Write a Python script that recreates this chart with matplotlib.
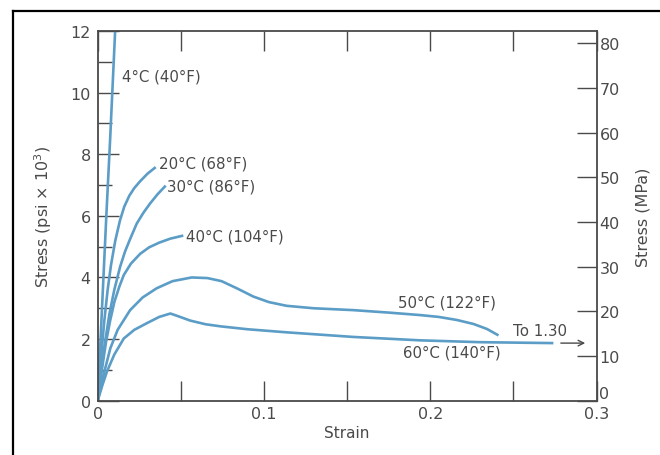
import matplotlib.pyplot as plt
from matplotlib.lines import Line2D
from matplotlib.ticker import MultipleLocator

# stress-strain curves, stress in psi x 10^3
strain_4 = [0, 0.0026, 0.0052, 0.0075, 0.0105]
stress_4 = [0, 3.0, 6.0, 8.5, 12.0]

strain_20 = [0, 0.002, 0.004, 0.006, 0.008, 0.0106, 0.0134, 0.016, 0.019,
             0.022, 0.0255, 0.03, 0.0349]
stress_20 = [0, 1.4, 2.6, 3.6, 4.4, 5.2, 5.85, 6.3, 6.65,
             6.9, 7.12, 7.37, 7.58]

strain_30 = [0, 0.002, 0.004, 0.007, 0.01, 0.0135, 0.0165, 0.0196, 0.0235,
             0.0275, 0.0315, 0.036, 0.0409]
stress_30 = [0, 0.9, 1.75, 2.8, 3.6, 4.35, 4.85, 5.26, 5.75,
             6.1, 6.4, 6.7, 6.98]

strain_40 = [0, 0.0025, 0.005, 0.0075, 0.01, 0.013, 0.0157, 0.02, 0.0256,
             0.031, 0.037, 0.0437, 0.0515]
stress_40 = [0, 1.0, 1.9, 2.6, 3.2, 3.7, 4.08, 4.45, 4.77,
             4.98, 5.13, 5.26, 5.36]

strain_50 = [0, 0.0038, 0.0076, 0.012, 0.0195, 0.027, 0.0355, 0.045, 0.0565,
             0.066, 0.0745, 0.084, 0.0936, 0.103, 0.1136, 0.13, 0.1537, 0.175,
             0.1938, 0.205, 0.216, 0.226, 0.234, 0.241]
stress_50 = [0, 0.9, 1.7, 2.3, 2.94, 3.35, 3.65, 3.88, 4.0,
             3.98, 3.88, 3.64, 3.38, 3.2, 3.08, 3.0, 2.94, 2.86,
             2.78, 2.72, 2.62, 2.49, 2.33, 2.12]

strain_60 = [0, 0.0028, 0.0056, 0.01, 0.0157, 0.022, 0.0297, 0.037, 0.0437,
             0.048, 0.0557, 0.065, 0.0745, 0.09, 0.1136, 0.1537, 0.1938, 0.23,
             0.274]
stress_60 = [0, 0.5, 0.95, 1.5, 2.02, 2.3, 2.52, 2.72, 2.83,
             2.75, 2.6, 2.48, 2.41, 2.32, 2.22, 2.07, 1.96, 1.9,
             1.87]

curves = [(strain_4, stress_4), (strain_20, stress_20), (strain_30, stress_30),
          (strain_40, stress_40), (strain_50, stress_50), (strain_60, stress_60)]

labels = ["4°C (40°F)", "20°C (68°F)", "30°C (86°F)", "40°C (104°F)",
          "50°C (122°F)", "60°C (140°F)"]
label_x = [0.0147, 0.0369, 0.0419, 0.0531, 0.1808, 0.1838]
label_y = [10.55, 7.72, 6.96, 5.36, 3.21, 1.57]

x_ticks = [0, 0.1, 0.2, 0.3]
x_ticklabels = ["0", "0.1", "0.2", "0.3"]
mpa_ticks = [0, 10, 20, 30, 40, 50, 60, 70, 80]

PSI_TO_MPA = 6.895
blue = "#5b9dc6"
grey = "#4a4a4a"

fig = plt.figure(figsize=(6.6, 4.56), dpi=100)
ax = fig.add_axes([0.148, 0.119, 0.756, 0.811])

for x, y in curves:
    ax.plot(x, y, color=blue, lw=1.9, solid_capstyle="butt", solid_joinstyle="round")

for t, x, y in zip(labels, label_x, label_y):
    ax.text(x, y, t, fontsize=10.8, color=grey, ha="left", va="center")

ax.text(0.2496, 2.27, "To 1.30", fontsize=10.8, color=grey, ha="left", va="center")
ax.annotate("", xy=(0.2948, 1.87), xytext=(0.2768, 1.87),
            arrowprops=dict(arrowstyle="->", color=grey, lw=1.0))

ax.set_xlim(0, 0.3)
ax.set_ylim(0, 12)
ax.set_xticks(x_ticks)
ax.set_xticklabels(x_ticklabels)
ax.xaxis.set_minor_locator(MultipleLocator(0.05))
ax.yaxis.set_major_locator(MultipleLocator(2))
ax.yaxis.set_minor_locator(MultipleLocator(1))
ax.tick_params(which="both", direction="in", color=grey, width=1.0,
               top=True, labelcolor=grey, labelsize=11.5)
ax.tick_params(axis="x", which="both", length=14.5, pad=4)
ax.tick_params(axis="y", which="major", length=15, pad=5)
ax.tick_params(axis="y", which="minor", length=10)
for s in ax.spines.values():
    s.set_color(grey)
    s.set_linewidth(1.3)

ax.set_xlabel("Strain", fontsize=11, color=grey, labelpad=3)
ax.set_ylabel("Stress (psi $\\times$ 10$^3$)", fontsize=11.5, color=grey, labelpad=12)

ax2 = ax.twinx()
ax2.set_ylim(0, 12 * PSI_TO_MPA)
ax2.set_yticks(mpa_ticks)
ax2.tick_params(direction="in", length=14.5, width=1.0, color=grey,
                labelcolor=grey, labelsize=11.5, pad=2)
ax2.get_yticklabels()[0].set_va("bottom")  # the 0 sits a little above the axis
for s in ax2.spines.values():
    s.set_visible(False)
ax2.set_ylabel("Stress (MPa)", fontsize=11.5, color=grey, labelpad=11)

# outer frame
fig.add_artist(Line2D([13 / 660, 13 / 660], [0, 1 - 12 / 456], color="black", lw=1.6))
fig.add_artist(Line2D([13 / 660, 1], [1 - 12 / 456, 1 - 12 / 456], color="black", lw=1.6))

fig.savefig("out.png", dpi=100)
